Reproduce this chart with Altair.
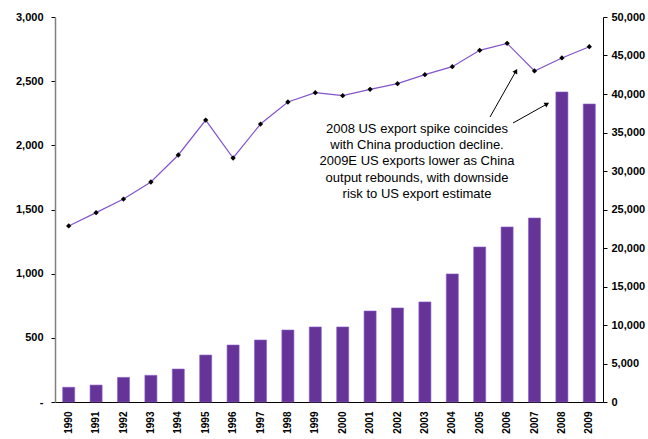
import altair as alt
import pandas as pd

# Annual figures, 1990-2009E
years = [str(y) for y in range(1990, 2010)]
us_exports = [115, 132, 192, 208, 257, 366, 444, 483, 561, 585,
              585, 709, 733, 780, 998, 1208, 1364, 1434, 2416, 2322]
china_output = [22860, 24590, 26360, 28570, 32080, 36620, 31690, 36100, 38960, 40170,
                39780, 40610, 41340, 42510, 43550, 45670, 46580, 42990, 44680, 46140]

note_lines = [
    "2008 US export spike coincides",
    "with China production decline.",
    "2009E US exports lower as China",
    "output rebounds, with downside",
    "risk to US export estimate",
]

df = pd.DataFrame({"year": years, "exports": us_exports, "output": china_output})

BAR = "#663399"
LINE = "#8455cc"
FONT = "Arial"

x_enc = alt.X(
    "year:O",
    title=None,
    scale=alt.Scale(paddingInner=0.56, paddingOuter=0.28),
    axis=alt.Axis(
        labelAngle=-90, labelFontWeight="bold", labelFontSize=10, labelFont=FONT,
        labelColor="black", ticks=False, domainColor="black", labelPadding=9,
        labelBaseline="middle", labelAlign="right",
    ),
)

bars = alt.Chart(df).mark_bar(color=BAR, stroke="#8a62c8", strokeWidth=0.6).encode(
    x=x_enc,
    y=alt.Y(
        "exports:Q",
        title=None,
        scale=alt.Scale(domain=[0, 3000], nice=False),
        axis=alt.Axis(
            orient="left", values=list(range(0, 3001, 500)), grid=False,
            labelExpr="datum.value == 0 ? '-' : format(datum.value, ',')",
            labelFontWeight="bold", labelFontSize=11, labelFont=FONT, labelColor="black",
            domainColor="#808080", domainWidth=1.5, tickColor="black", tickSize=4,
            labelPadding=8, labelOverlap=False,
        ),
    ),
)

line_y = alt.Y(
    "output:Q",
    title=None,
    scale=alt.Scale(domain=[0, 50000], nice=False),
    axis=alt.Axis(
        orient="right", values=list(range(0, 50001, 5000)), grid=False,
        labelExpr="format(datum.value, ',')", labelOverlap=False,
        labelFontWeight="bold", labelFontSize=11, labelFont=FONT, labelColor="black",
        domainColor="black", tickColor="black", tickSize=4, labelPadding=4,
    ),
)

# Line and its diamond markers share one right-hand scale
base = alt.Chart(df).encode(x="year:O", y=line_y)
china = base.mark_line(color=LINE, strokeWidth=1.2) + base.mark_point(
    shape="diamond", filled=True, color="black", size=28, opacity=1
)

one = pd.DataFrame({"k": [0]})

note = alt.Chart(one).mark_text(
    text=note_lines, font=FONT, fontSize=13, color="black",
    align="center", baseline="middle", lineHeight=16.2,
).encode(x=alt.value(362), y=alt.value(112))

arrow1 = alt.Chart(one).mark_rule(color="black", strokeWidth=1).encode(
    x=alt.value(435), y=alt.value(100), x2=alt.value(461), y2=alt.value(54))
head1 = alt.Chart(one).mark_point(
    shape="triangle-up", filled=True, color="black", size=30, angle=29, opacity=1
).encode(x=alt.value(461), y=alt.value(54))

arrow2 = alt.Chart(one).mark_rule(color="black", strokeWidth=1).encode(
    x=alt.value(458), y=alt.value(106), x2=alt.value(492), y2=alt.value(87))
head2 = alt.Chart(one).mark_point(
    shape="triangle-up", filled=True, color="black", size=30, angle=61, opacity=1
).encode(x=alt.value(492), y=alt.value(87))

chart = (
    alt.layer(bars, china, note, arrow1, head1, arrow2, head2)
    .resolve_scale(y="independent")
    .properties(
        width=548, height=385,
        autosize=alt.AutoSizeParams(type="none"),
        padding={"left": 55, "top": 17, "right": 45, "bottom": 37},
        background="white",
    )
    .configure_view(stroke=None)
)

chart.save("out.html", embed_options={"renderer": "svg", "actions": False})
